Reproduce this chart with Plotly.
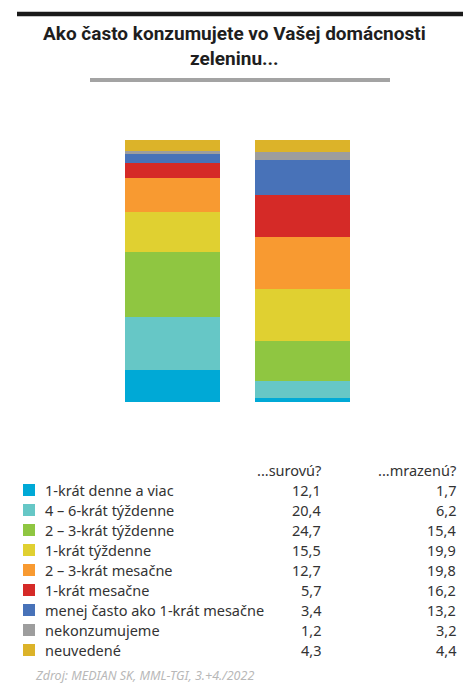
import plotly.graph_objects as go

# Survey data: how often households consume vegetables (share in %)
categories = ["...surovú?", "...mrazenú?"]
frequency_labels = [
    "1-krát denne a viac",
    "4 – 6-krát týždenne",
    "2 – 3-krát týždenne",
    "1-krát týždenne",
    "2 – 3-krát mesačne",
    "1-krát mesačne",
    "menej často ako 1-krát mesačne",
    "nekonzumujeme",
    "neuvedené",
]
raw_values = [12.1, 20.4, 24.7, 15.5, 12.7, 5.7, 3.4, 1.2, 4.3]
frozen_values = [1.7, 6.2, 15.4, 19.9, 19.8, 16.2, 13.2, 3.2, 4.4]
colors = [
    "#00a9d6", "#66c7c6", "#8fc641", "#e0d031", "#f89a31",
    "#d52a27", "#4872b8", "#9d9d9d", "#dcb329",
]

W, H = 469, 686


def py(pix):
    """Convert a pixel row (from top) to paper coordinates."""
    return 1 - pix / H


def px(pix):
    return pix / W


fig = go.Figure()
for i, label in enumerate(frequency_labels):
    fig.add_trace(go.Bar(
        x=[0, 1],
        y=[raw_values[i], frozen_values[i]],
        name=label,
        marker=dict(color=colors[i], line=dict(width=0)),
        width=0.7308,
        hoverinfo="skip",
        showlegend=False,
    ))

shapes = [
    # heavy rule above the title
    dict(type="line", xref="paper", yref="paper",
         x0=px(17), x1=px(463), y0=py(14), y1=py(14),
         line=dict(color="#1a1a1a", width=4.5)),
    # grey rule under the title
    dict(type="line", xref="paper", yref="paper",
         x0=px(90), x1=px(390), y0=py(80), y1=py(80),
         line=dict(color="#a3a3a3", width=4)),
]

annotations = [
    dict(text="<b>Ako často konzumujete vo Vašej domácnosti<br>zeleninu...</b>",
         xref="paper", yref="paper", x=0.5, y=py(20), xanchor="center", yanchor="top",
         showarrow=False, align="center",
         font=dict(family="Roboto", size=19, color="#1e1e1e")),
]

text_font = dict(family="Noto Sans", size=14.5, color="#333333")

# Table header
col1_x, col2_x = 323, 458
row0_y = 470
for cx, cat in zip([col1_x, col2_x], categories):
    annotations.append(dict(text=cat, xref="paper", yref="paper", x=px(cx), y=py(row0_y),
                            xanchor="right", yanchor="middle", showarrow=False,
                            font=text_font))

# Table rows: swatch, label, values
for i, label in enumerate(frequency_labels):
    ry = 490 + 20 * i
    shapes.append(dict(type="rect", xref="paper", yref="paper",
                       x0=px(23), x1=px(35), y0=py(ry - 6), y1=py(ry + 6),
                       fillcolor=colors[i], line=dict(width=0)))
    annotations.append(dict(text=label, xref="paper", yref="paper", x=px(43), y=py(ry),
                            xanchor="left", yanchor="middle", showarrow=False,
                            font=text_font))
    for cx, vals in zip([col1_x, col2_x], [raw_values, frozen_values]):
        annotations.append(dict(text=f"{vals[i]:.1f}".replace(".", ","), xref="paper", yref="paper",
                                x=px(cx), y=py(ry), xanchor="right", yanchor="middle",
                                showarrow=False, font=text_font))

annotations.append(dict(text="<i>Zdroj: MEDIAN SK, MML-TGI, 3.+4./2022</i>", xref="paper", yref="paper",
                        x=px(33), y=py(675), xanchor="left", yanchor="middle", showarrow=False,
                        font=dict(family="Noto Sans", size=12.5, color="#b8b8b8")))

fig.update_layout(
    width=W, height=H,
    margin=dict(l=0, r=0, t=0, b=0),
    barmode="stack",
    paper_bgcolor="white", plot_bgcolor="white",
    xaxis=dict(domain=[px(106.5), px(366.5)], range=[-0.5, 1.5], visible=False, fixedrange=True),
    yaxis=dict(domain=[py(402), py(140)], range=[0, 100], visible=False, fixedrange=True),
    shapes=shapes,
    annotations=annotations,
    bargap=0,
)

fig.write_html("out.html", config={"displayModeBar": False})
